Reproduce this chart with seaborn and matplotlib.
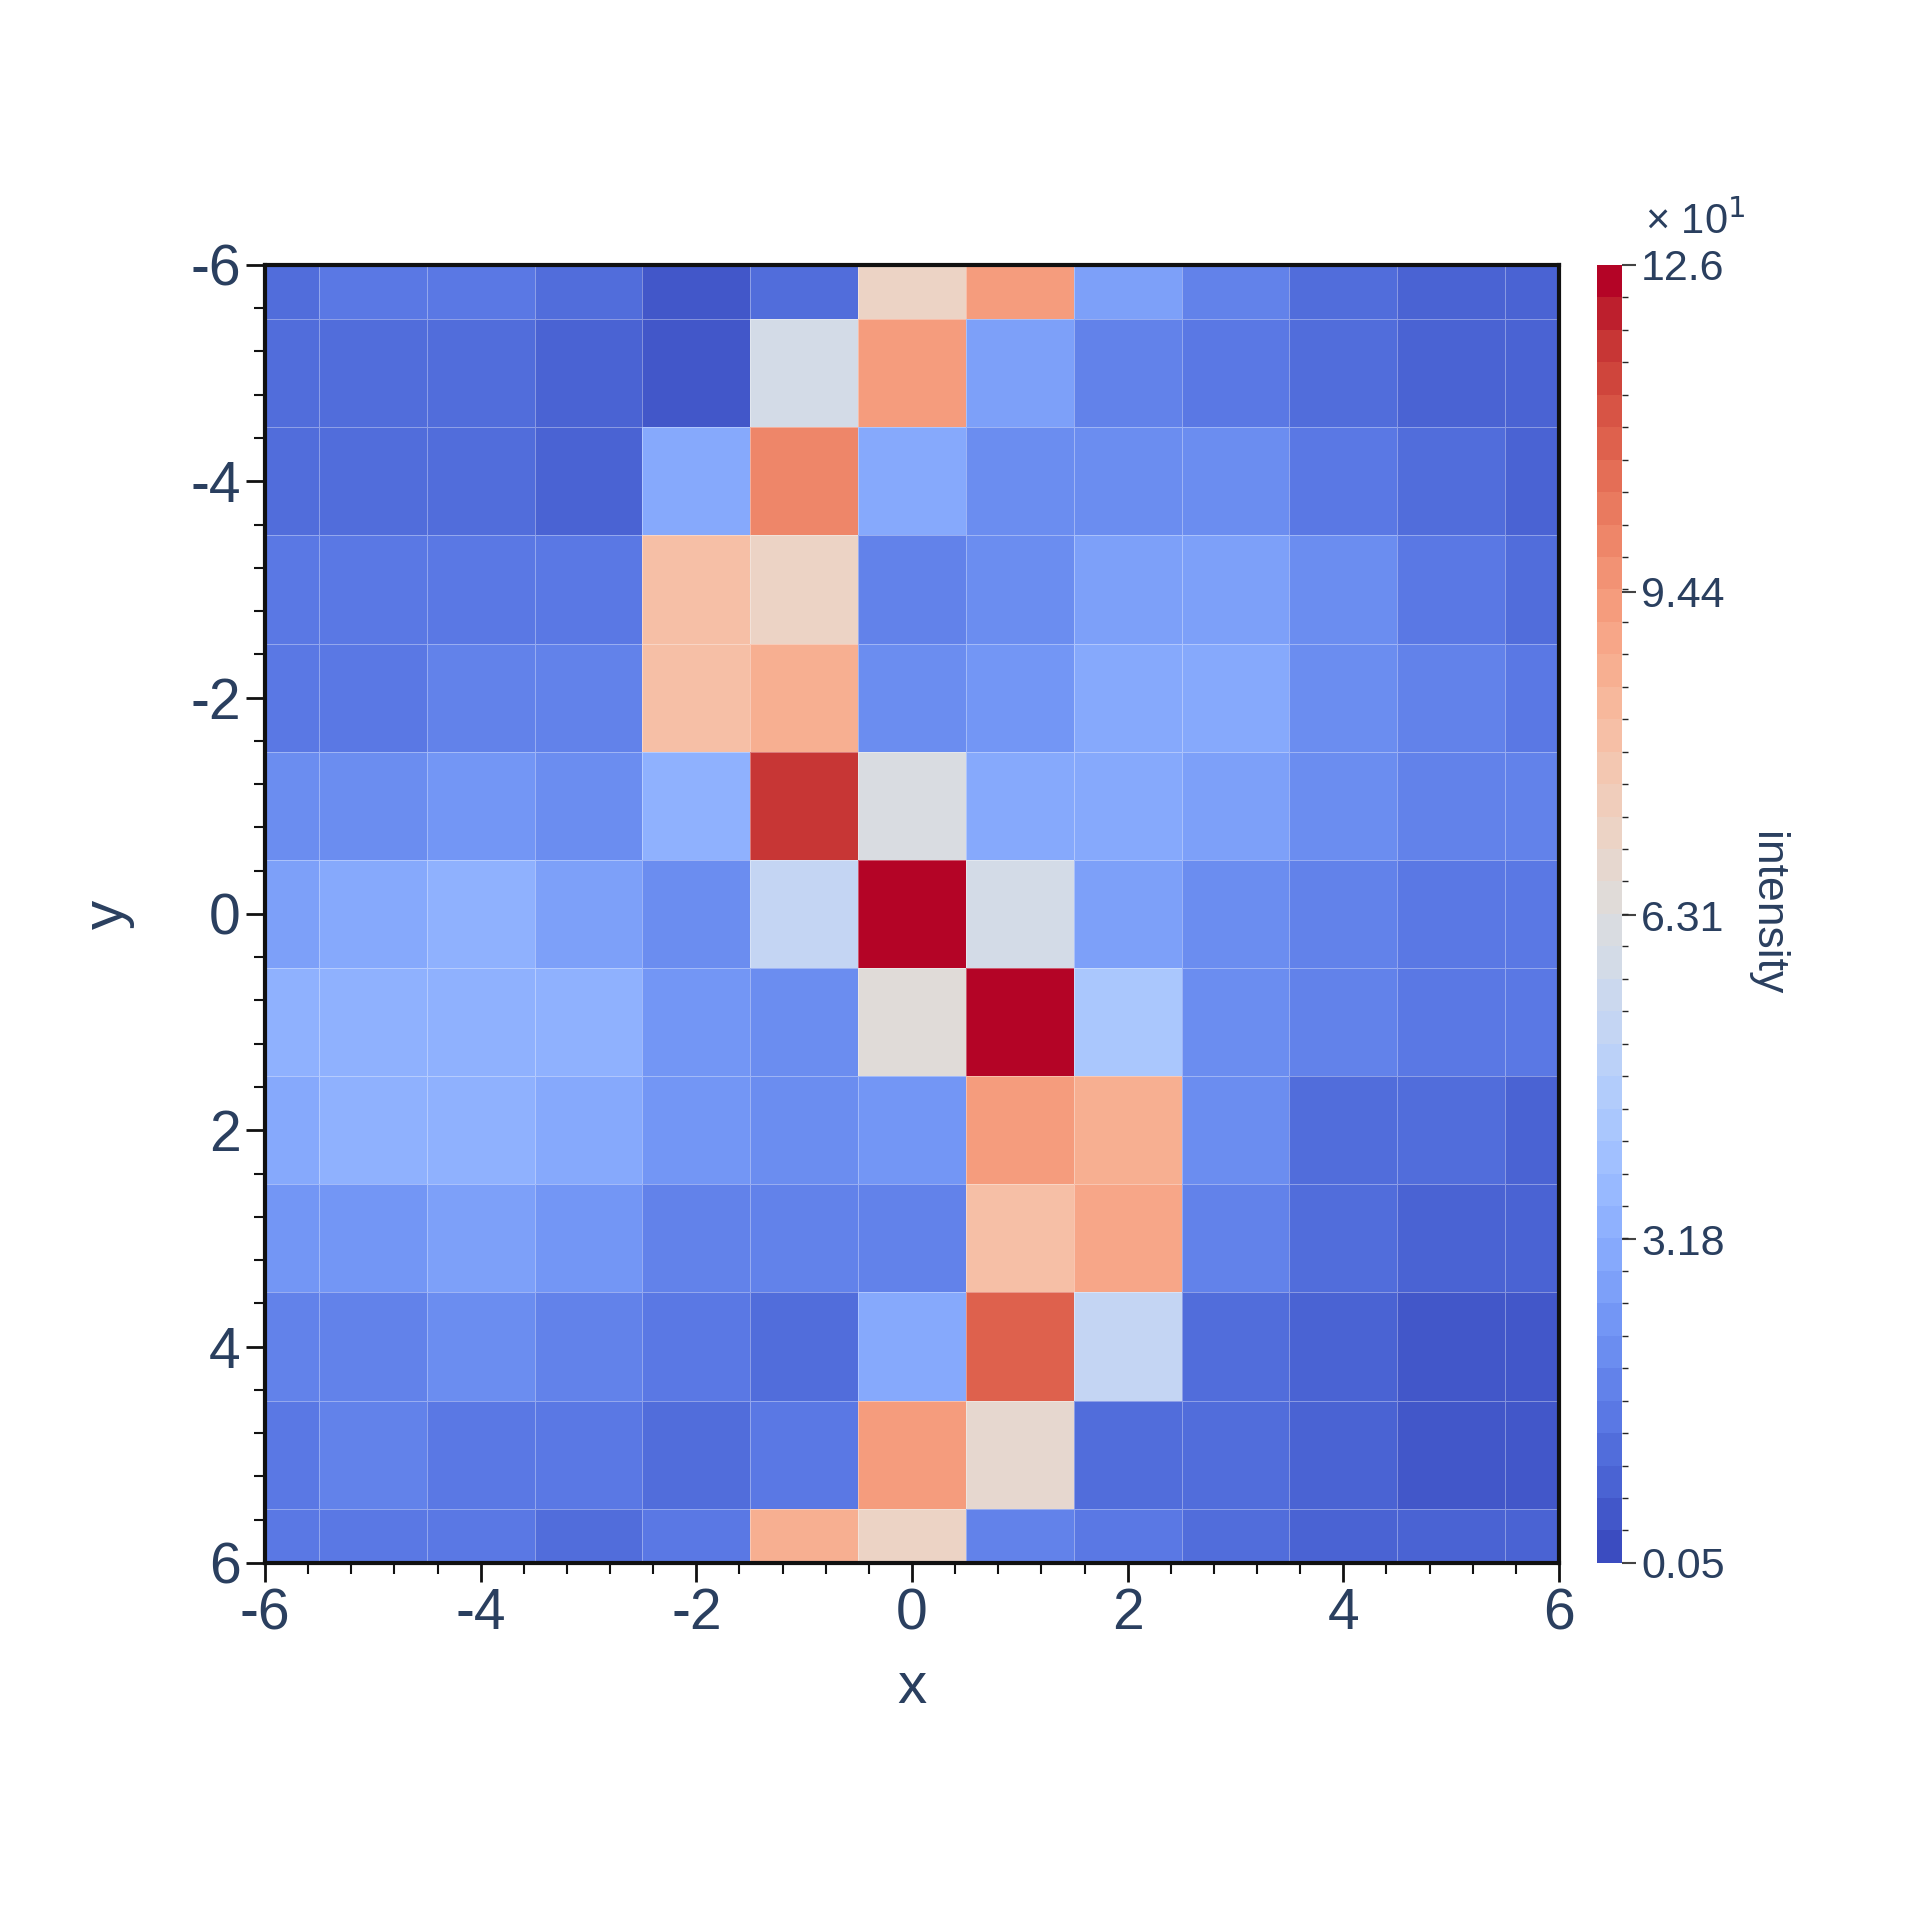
import numpy as np
import matplotlib
matplotlib.use("Agg")
import matplotlib.pyplot as plt
import seaborn as sns
from matplotlib.colors import ListedColormap, BoundaryNorm
from matplotlib.ticker import MultipleLocator

sns.set_theme(style="ticks")
plt.rcParams['font.family'] = ['Liberation Sans', 'DejaVu Sans']
plt.rcParams['axes.unicode_minus'] = False

x_centers = list(range(-6, 7))
y_centers = list(range(-6, 7))
intensity = [
    [13, 15, 14, 11, 6, 11, 72, 94, 27, 18, 12, 9, 9],
    [12, 13, 12, 7, 5, 60, 93, 28, 18, 16, 12, 8, 8],
    [10, 12, 10, 7, 31, 98, 29, 20, 22, 20, 15, 10, 9],
    [14, 14, 14, 15, 82, 72, 18, 22, 26, 27, 20, 14, 12],
    [16, 16, 17, 18, 80, 86, 20, 25, 29, 30, 22, 17, 14],
    [22, 22, 24, 20, 33, 117, 62, 29, 29, 28, 22, 18, 17],
    [28, 30, 32, 28, 22, 52, 126, 58, 26, 22, 18, 15, 15],
    [32, 34, 35, 32, 24, 22, 64, 126, 44, 20, 17, 14, 14],
    [30, 32, 34, 30, 24, 20, 24, 92, 88, 20, 13, 10, 9],
    [24, 25, 26, 23, 19, 17, 19, 82, 90, 17, 10, 7, 7],
    [17, 19, 20, 17, 15, 12, 30, 108, 52, 12, 7, 4, 4],
    [16, 17, 16, 14, 11, 16, 94, 68, 13, 12, 7, 4, 4],
    [16, 16, 14, 12, 15, 88, 72, 18, 15, 13, 9, 7, 7],
]
cbar_ticks = [0.5, 31.8, 63.1, 94.4, 126]
cbar_labels = ["0.05", "3.18", "6.31", "9.44", "12.6"]

Z = np.array(intensity, dtype=float)
def edges(c):
    c = np.array(c, dtype=float)
    mid = (c[:-1] + c[1:]) / 2
    return np.concatenate([[c[0]], mid, [c[-1]]])
xe, ye = edges(x_centers), edges(y_centers)

nlev = 40
base = matplotlib.colormaps["coolwarm"]
cmap = ListedColormap(base(np.linspace(0, 1, nlev)))
bounds = np.linspace(cbar_ticks[0], cbar_ticks[-1], nlev + 1)
norm = BoundaryNorm(bounds, nlev)

txt = "#2a3f5f"
fig = plt.figure(figsize=(19.2, 19.2), dpi=100)
ax = fig.add_axes([0.138, 0.186, 0.674, 0.676])
ax.pcolormesh(xe, ye, Z, cmap=cmap, norm=norm, edgecolor=(1, 1, 1, 0.35), linewidth=0.6)
ax.set_xlim(-6, 6)
ax.set_ylim(6, -6)
for s in ax.spines.values():
    s.set_linewidth(3)
    s.set_color("#111111")
ax.xaxis.set_major_locator(MultipleLocator(2))
ax.yaxis.set_major_locator(MultipleLocator(2))
ax.xaxis.set_minor_locator(MultipleLocator(0.4))
ax.yaxis.set_minor_locator(MultipleLocator(0.4))
ax.tick_params(which="major", length=14, width=2, labelsize=41, colors=txt, color="#111111")
ax.tick_params(which="minor", length=8, width=1.5, color="#111111")
ax.set_xlabel("x", fontsize=42, color=txt, labelpad=14)
ax.set_ylabel("y", fontsize=42, color=txt, labelpad=40)

cax = fig.add_axes([0.832, 0.186, 0.013, 0.676])
sm = matplotlib.cm.ScalarMappable(norm=norm, cmap=cmap)
cb = fig.colorbar(sm, cax=cax, ticks=cbar_ticks)
cb.ax.set_yticklabels(cbar_labels)
cb.outline.set_visible(False)
cb.ax.tick_params(labelsize=31, colors=txt, length=10, width=1.5, color="#444444")
cb.set_label("intensity", fontsize=32, color=txt, rotation=270, labelpad=45)
fig.text(0.857, 0.878, "× 10$^1$", fontsize=30, color=txt)

fig.savefig("out.png", dpi=100)
